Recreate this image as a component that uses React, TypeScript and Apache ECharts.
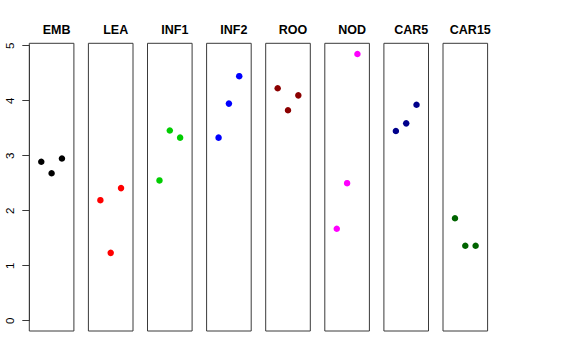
import React, { useEffect, useRef } from "react";
import * as echarts from "echarts";

const panels = ["EMB", "LEA", "INF1", "INF2", "ROO", "NOD", "CAR5", "CAR15"];
const colors = ["#000000", "#FF0000", "#00CD00", "#0000FF", "#8B0000", "#FF00FF", "#00008B", "#006400"];
const positions = [1, 2, 3];
const values: number[][] = [
  [2.89, 2.68, 2.95],
  [2.19, 1.23, 2.41],
  [2.55, 3.46, 3.33],
  [3.33, 3.95, 4.45],
  [4.23, 3.83, 4.1],
  [1.67, 2.5, 4.855],
  [3.45, 3.59, 3.93],
  [1.86, 1.36, 1.36],
];
const yTicks = [0, 1, 2, 3, 4, 5];

export default function App() {
  const ref = useRef<HTMLDivElement>(null);
  useEffect(() => {
    if (!ref.current) return;
    const chart = echarts.init(ref.current, null, { renderer: "svg" });
    const step = 59.1;
    const left0 = 29.3;
    const w = 44.6;
    const top = 43.3;
    const h = 287.7;
    const grids: any[] = [];
    const xAxes: any[] = [];
    const yAxes: any[] = [];
    const series: any[] = [];
    const titles: any[] = [];
    panels.forEach((name, i) => {
      grids.push({
        left: left0 + step * i,
        top,
        width: w,
        height: h,
        show: true,
        borderColor: "#3a3a3a",
        borderWidth: 1,
        backgroundColor: "transparent",
      });
      xAxes.push({ type: "value", gridIndex: i, min: -0.16, max: 4.16, show: false });
      yAxes.push({ type: "value", gridIndex: i, min: -0.194, max: 5.049, show: false });
      series.push({
        type: "scatter",
        xAxisIndex: i,
        yAxisIndex: i,
        symbolSize: 6.5,
        itemStyle: { color: colors[i], opacity: 1 },
        data: values[i].map((v, j) => [positions[j], v]),
      });
      titles.push({
        text: name,
        left: left0 + step * i + w / 2,
        top: 18,
        textAlign: "center",
        textStyle: { fontFamily: "Liberation Sans, Arial, sans-serif", fontWeight: "bold", fontSize: 12.5, color: "#000" },
      });
    });
    // shared y axis grid
    const yTop = 320.7 - 55 * 5;
    grids.push({ left: left0, top: yTop, width: w, height: 275, show: false });
    xAxes.push({ type: "value", gridIndex: 8, min: 0, max: 4, show: false });
    yAxes.push({
      type: "value",
      gridIndex: 8,
      min: yTicks[0],
      max: yTicks[yTicks.length - 1],
      interval: 1,
      axisLine: { show: true, lineStyle: { color: "#3a3a3a", width: 1 } },
      axisTick: { show: true, length: 7, inside: false, lineStyle: { color: "#3a3a3a" } },
      splitLine: { show: false },
      axisLabel: {
        rotate: 90,
        margin: 19.5,
        color: "#000",
        fontSize: 11.5,
        fontFamily: "Liberation Sans, Arial, sans-serif",
        verticalAlign: "middle",
        align: "center",
      },
    });
    chart.setOption({
      animation: false,
      backgroundColor: "#fff",
      title: titles,
      grid: grids,
      xAxis: xAxes,
      yAxis: yAxes,
      series,
    });
    return () => chart.dispose();
  }, []);
  return <div ref={ref} style={{ width: 576, height: 360, position: "absolute", left: 0, top: 0 }} />;
}
